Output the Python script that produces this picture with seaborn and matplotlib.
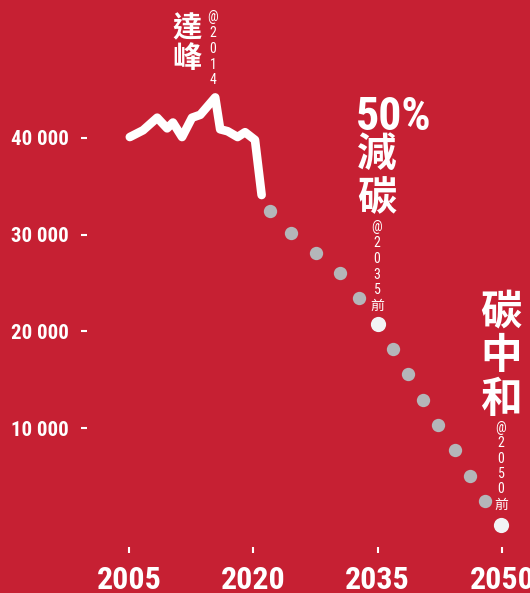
import matplotlib
matplotlib.use("Agg")
import matplotlib.pyplot as plt
import seaborn as sns
import pandas as pd
from matplotlib import font_manager

# ---- data ----
hist_years = [2005.1, 2006.7, 2008.4, 2009.6, 2010.3, 2011.4, 2012.6, 2013.6,
              2015.4, 2016.0, 2016.9, 2018.1, 2019.0, 2020.2, 2021.0]
hist_values = [40100, 40800, 42100, 41000, 41600, 40100, 42100, 42400,
               44200, 40900, 40700, 40100, 40600, 39800, 34100]

proj_years = [2022.0, 2024.6, 2027.5, 2030.5, 2032.8, 2036.8, 2038.7,
              2040.5, 2042.3, 2044.3, 2046.1, 2047.9]
proj_values = [32450, 30180, 28110, 26040, 23450, 18170, 15590,
               12900, 10310, 7720, 5030, 2450]

target_years = [2035.0, 2049.9]
target_values = [20760, 0]

x_ticks = [2005, 2020, 2035, 2050]
y_ticks = [10000, 20000, 30000, 40000]
y_tick_labels = ["10 000", "20 000", "30 000", "40 000"]

BG = "#C62033"
GRAY = "#B4B6B9"
WHITE = "#F2F3F5"

sns.set_style("white")

# ---- pick a condensed latin font if one is installed ----
narrow = None
narrow_stretch = "normal"
cond_stretch = {"condensed", "semi-condensed", "extra-condensed",
                "ultra-condensed"}
fl = font_manager.fontManager.ttflist
for key in ["Roboto Condensed", "Liberation Sans Narrow", "Open Sans Condensed",
            "Noto Sans Condensed", "DejaVu Sans Condensed"]:
    if any(f.name == key for f in fl):
        narrow = key
        break
if narrow is None:
    for f in fl:
        if "Condensed" in f.name or "Narrow" in f.name:
            narrow = f.name
            break
if narrow is None:
    for pref in ["Roboto", "Liberation Sans", "DejaVu Sans", "Open Sans", "Noto Sans", "Lato", "Inter"]:
        hits = [f for f in fl if f.name == pref and str(f.stretch) in cond_stretch]
        if hits:
            narrow = pref
            narrow_stretch = hits[0].stretch
            break
if narrow is None:
    narrow = "Liberation Sans" if any(f.name == "Liberation Sans" for f in fl) else "DejaVu Sans"

plt.rcParams["font.family"] = [narrow, "Noto Sans CJK TC", "DejaVu Sans"]
plt.rcParams["font.stretch"] = narrow_stretch

W, H = 530, 593
fig = plt.figure(figsize=(W / 100, H / 100), dpi=100, facecolor=BG)

# axes geometry in pixels
left_px, right_px, top_px, bottom_px = 87, 530, 0, 547
ax = fig.add_axes([left_px / W, 1 - bottom_px / H, (right_px - left_px) / W,
                   (bottom_px - top_px) / H])
ax.set_facecolor(BG)

ppy = (502 - 129) / 45.0
ax.set_xlim(2005 + (left_px - 129) / ppy, 2005 + (right_px - 129) / ppy)
ppv = (428 - 138) / 30000.0
zero_px = 428 + 10000 * ppv
ax.set_ylim((zero_px - bottom_px) / ppv, (zero_px - top_px) / ppv)

hist = pd.DataFrame({"year": hist_years, "value": hist_values})
proj = pd.DataFrame({"year": proj_years, "value": proj_values})
targ = pd.DataFrame({"year": target_years, "value": target_values})

sns.lineplot(data=hist, x="year", y="value", sort=False, color="white",
             linewidth=6.2, ax=ax)
for ln in ax.lines:
    ln.set_solid_capstyle("round")
    ln.set_solid_joinstyle("round")
sns.scatterplot(data=proj, x="year", y="value", color=GRAY, s=92,
                linewidth=0, ax=ax, zorder=3)
sns.scatterplot(data=targ, x="year", y="value", color=WHITE, s=120,
                linewidth=0, ax=ax, zorder=3)

for sp in ax.spines.values():
    sp.set_visible(False)
ax.set_xlabel("")
ax.set_ylabel("")
ax.set_xticks(x_ticks)
ax.set_xticklabels([str(t) for t in x_ticks])
ax.set_yticks(y_ticks)
ax.set_yticklabels(y_tick_labels)
ax.tick_params(axis="x", direction="out", length=4.3, width=1.5, colors="white",
               pad=9, labelsize=23)
ax.tick_params(axis="y", direction="out", length=4.3, width=1.5, colors="white",
               pad=9, labelsize=15)
for lab in ax.get_xticklabels() + ax.get_yticklabels():
    lab.set_fontweight("bold")
    lab.set_fontstretch(narrow_stretch)
    lab.set_color("white")
ax.tick_params(bottom=True, left=True)

cjk = ["Noto Sans CJK TC", "DejaVu Sans"]
small = [narrow, "Noto Sans CJK TC", "DejaVu Sans"]


def ptext(x, y, s, size, family, ls=1.2, weight="bold"):
    fig.text(x / W, 1 - y / H, s, ha="center", va="top", color="white",
             fontsize=size, family=family, fontweight=weight, linespacing=ls,
             fontstretch=narrow_stretch)


# peak annotation
ptext(187, 13, "達\n峰", 21, cjk, ls=1.02)
ptext(213, 10, "\n".join("@2014"), 10, small, ls=1.17, weight="normal")
# 50% reduction annotation
ptext(394, 95, "50%", 33, [narrow, "DejaVu Sans"])
ptext(377, 134, "減\n碳", 28.5, cjk, ls=1.1)
ptext(377, 220, "\n".join("@2035") + "\n前", 10, small, ls=1.17, weight="normal")
# carbon neutrality annotation
ptext(501, 291, "碳\n中\n和", 30, cjk, ls=1.06)
ptext(501, 421, "\n".join("@2050") + "\n前", 10, small, ls=1.12, weight="normal")

fig.savefig("out.png", dpi=100, facecolor=BG)
